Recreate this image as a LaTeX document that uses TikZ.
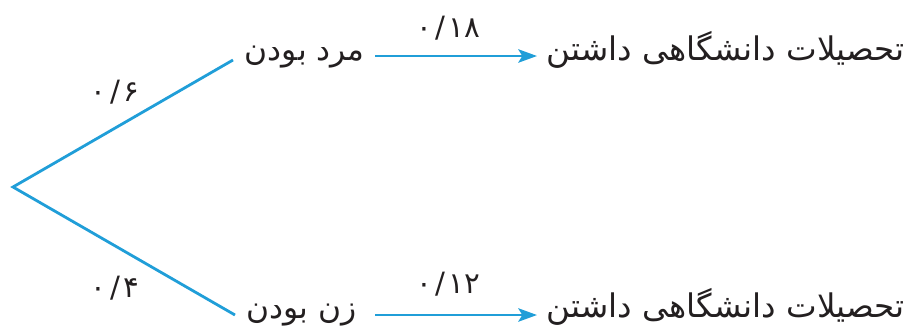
\documentclass[tikz,border=0pt]{standalone}
\usepackage{fontspec}
\usetikzlibrary{arrows.meta}
\newfontfamily\arabicfont[Script=Arabic]{DejaVu Sans}
\TeXXeTstate=1
\definecolor{lineblue}{RGB}{32,158,216}
\definecolor{ink}{RGB}{35,31,32}
\newcommand{\gp}{\hspace{2.5pt}}
\begin{document}
\begin{tikzpicture}[x=0.75pt,y=-0.75pt,
  branch/.style={draw=lineblue,line width=2.1pt},
  arrowline/.style={draw=lineblue,line width=2.1pt,-{Stealth[length=14pt,width=10pt,inset=3pt]}},
  word/.style={text=ink,inner sep=0pt,font=\arabicfont\fontsize{23.5}{26}\selectfont},
  bigword/.style={text=ink,inner sep=0pt,font=\arabicfont\fontsize{24.4}{27}\selectfont},
  prob/.style={text=ink,inner sep=0pt,font=\arabicfont\fontsize{22}{24}\selectfont}]
\useasboundingbox (0,0) rectangle (914,329);
\coordinate (root) at (13,187);
\coordinate (mEnd) at (233,60);
\coordinate (zEnd) at (235,315);
\node[word,anchor=base east] (m) at (365,60) {\beginR مرد بودن\endR};
\node[word,anchor=base east] (z) at (357,318) {\beginR زن بودن\endR};
\node[bigword,anchor=base east] (t1) at (905,60) {\beginR تحصیلات دانشگاهی داشتن\endR};
\node[bigword,anchor=base east] (t2) at (905,317) {\beginR تحصیلات دانشگاهی داشتن\endR};
\coordinate (a1s) at (375,56);
\coordinate (a1e) at (537,56);
\coordinate (a2s) at (375,315);
\coordinate (a2e) at (537,315);
\draw[branch] (mEnd) -- (root) -- (zEnd);
\draw[arrowline] (a1s) -- (a1e);
\draw[arrowline] (a2s) -- (a2e);
\node[prob] (p6) at (115,92) {۰\gp/\gp۶};
\node[prob] (p4) at (115,288) {۰\gp/\gp۴};
\node[prob] (p18) at (448,28) {۰\gp/\gp۱۸};
\node[prob] (p12) at (448,284) {۰\gp/\gp۱۲};
\end{tikzpicture}
\end{document}
